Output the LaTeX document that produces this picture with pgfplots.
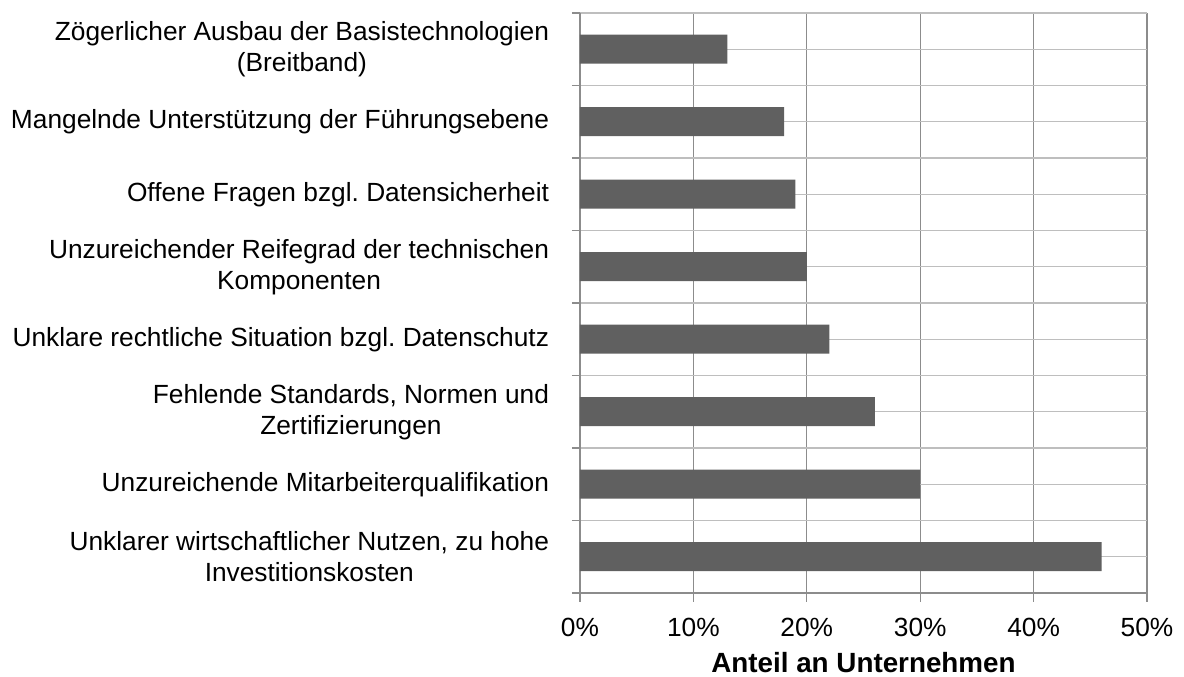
\documentclass[border=0pt]{standalone}
\usepackage{fontspec}
\setmainfont{Liberation Sans}
\usepackage{pgfplots}
\pgfplotsset{compat=1.18}
\definecolor{barc}{HTML}{606060}
\definecolor{vgrid}{HTML}{8C8C8C}
\definecolor{hgrid}{HTML}{BEBEBE}
\begin{document}
\frenchspacing
\fontsize{26.3}{31}\selectfont
\begin{tikzpicture}
\path[use as bounding box] (0,0) rectangle (1184pt,677pt);
\begin{axis}[
  at={(580pt,84pt)}, anchor=south west,
  scale only axis, width=567pt, height=580pt,
  xbar, bar width=29pt,
  xmin=0, xmax=50, ymin=-0.5, ymax=7.5,
  axis lines*=left,
  axis line style={draw=vgrid, line width=1.2pt},
  xtick={0,10,20,30,40,50},
  xticklabels={0\%,10\%,20\%,30\%,40\%,50\%},
  ytick={0,1,2,3,4,5,6,7},
  minor ytick={-0.5,0.5,1.5,2.5,3.5,4.5,5.5,6.5,7.5},
  yticklabels={
    {Unklarer wirtschaftlicher Nutzen, zu hohe\\Investitionskosten},
    {Unzureichende Mitarbeiterqualifikation},
    {Fehlende Standards, Normen und\\Zertifizierungen},
    {Unklare rechtliche Situation bzgl. Datenschutz},
    {Unzureichender Reifegrad der technischen\\Komponenten},
    {Offene Fragen bzgl. Datensicherheit},
    {Mangelnde Unterstützung der Führungsebene},
    {Zögerlicher Ausbau der Basistechnologien\\(Breitband)}},
  tick align=outside,
  major tick length=9pt, minor tick length=8pt,
  tick style={draw=vgrid, line width=1.2pt},
  major y tick style={draw=none},
  xmajorgrids, ymajorgrids, yminorgrids,
  x grid style={draw=vgrid, line width=1.2pt},
  y grid style={draw=hgrid, line width=1.2pt},
  yticklabel style={align=center, xshift=-13pt, font=\fontsize{26.3}{31}\selectfont\frenchspacing},
  xticklabel style={yshift=-7pt, font=\fontsize{26.3}{31}\selectfont},
  xlabel={\bfseries Anteil an Unternehmen},
  xlabel style={yshift=2pt, font=\fontsize{27.8}{31}\selectfont},
]
\addplot[fill=barc, draw=none] coordinates {
  (46,0) (30,1) (26,2) (22,3) (20,4) (19,5) (18,6) (13,7)
};
\end{axis}
\end{tikzpicture}
\end{document}
